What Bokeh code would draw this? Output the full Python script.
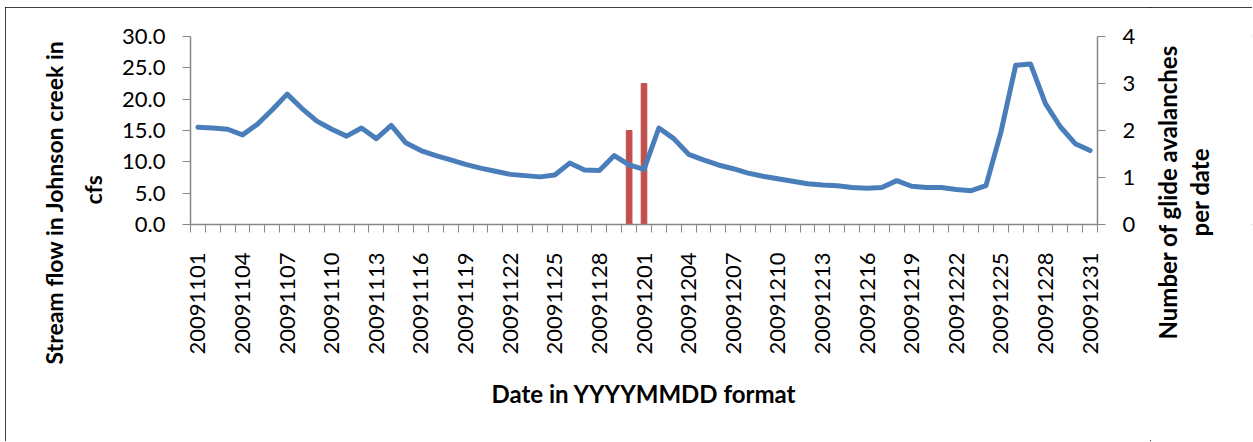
import math
from bokeh.plotting import figure
from bokeh.layouts import row
from bokeh.models import Range1d, LinearAxis, FixedTicker, NumeralTickFormatter, Title
from bokeh.embed import file_html
from bokeh.resources import INLINE

dates = [
    "20091101", "20091102", "20091103", "20091104", "20091105", "20091106", "20091107", "20091108",
    "20091109", "20091110", "20091111", "20091112", "20091113", "20091114", "20091115", "20091116",
    "20091117", "20091118", "20091119", "20091120", "20091121", "20091122", "20091123", "20091124",
    "20091125", "20091126", "20091127", "20091128", "20091129", "20091130",
    "20091201", "20091202", "20091203", "20091204", "20091205", "20091206", "20091207", "20091208",
    "20091209", "20091210", "20091211", "20091212", "20091213", "20091214", "20091215", "20091216",
    "20091217", "20091218", "20091219", "20091220", "20091221", "20091222", "20091223", "20091224",
    "20091225", "20091226", "20091227", "20091228", "20091229", "20091230", "20091231",
]

flow_cfs = [
    15.5, 15.4, 15.2, 14.3, 16.0, 18.3, 20.8, 18.5, 16.5, 15.2,
    14.1, 15.4, 13.7, 15.8, 13.0, 11.8, 11.0, 10.3, 9.6, 9.0,
    8.5, 8.0, 7.8, 7.6, 7.9, 9.8, 8.7, 8.6, 11.0, 9.5,
    8.8, 15.4, 13.7, 11.2, 10.3, 9.5, 8.9, 8.2, 7.7, 7.3,
    6.9, 6.5, 6.3, 6.2, 5.9, 5.8, 5.9, 7.0, 6.1, 5.9,
    5.9, 5.6, 5.4, 6.2, 14.7, 25.4, 25.6, 19.3, 15.6, 12.9, 11.8,
]

avalanche_dates = ["20091130", "20091201"]
avalanche_counts = [2, 3]

left_ticks = [0, 5, 10, 15, 20, 25, 30]
right_ticks = [0, 1, 2, 3, 4]
labelled_dates = dates[::3]

left_title_lines = ["Stream flow in Johnson creek in", "cfs"]
right_title_lines = ["Number of glide avalanches", "per date"]
bottom_title = "Date in YYYYMMDD format"

FONT = "Lato"
AXIS_COLOR = "#868686"
H = 434
RIGHT_W = 102
MAIN_W = 1247 - RIGHT_W

x_pos = list(range(1, len(dates) + 1))
bar_x = [dates.index(d) + 1 for d in avalanche_dates]

p = figure(width=MAIN_W, height=H, output_backend="svg", toolbar_location=None,
           x_range=Range1d(0.5, len(dates) + 0.5), y_range=Range1d(0, 30),
           min_border_left=185, min_border_right=MAIN_W - 185 - 907,
           min_border_top=29, min_border_bottom=217)
p.outline_line_color = None
p.xgrid.visible = False
p.ygrid.visible = False
p.background_fill_color = "white"
p.border_fill_color = "white"
p.extra_y_ranges = {"aval": Range1d(0, 4)}

p.vbar(x=bar_x, top=avalanche_counts, width=0.38, color="#C0504D", y_range_name="aval")
p.line(x_pos, flow_cfs, line_width=5, color="#4A7EBB", line_join="round", line_cap="round")

# x axis
xa = p.xaxis[0]
label_ticks = [dates.index(d) + 1 for d in labelled_dates]
xa.ticker = FixedTicker(ticks=label_ticks, minor_ticks=[i + 0.5 for i in range(0, len(dates) + 1)])
xa.major_label_overrides = {t: d for t, d in zip(label_ticks, labelled_dates)}
xa.major_label_orientation = math.pi / 2
xa.major_tick_out = 0
xa.major_tick_in = 0
xa.minor_tick_out = 8
xa.minor_tick_in = 0
xa.minor_tick_line_color = AXIS_COLOR
xa.axis_line_color = AXIS_COLOR
xa.axis_line_width = 1.5
xa.major_label_text_font = FONT
xa.major_label_text_font_size = "22px"
xa.major_label_text_color = "black"
xa.major_label_standoff = 20
xa.axis_label = bottom_title
xa.axis_label_text_font = FONT
xa.axis_label_text_font_style = "bold"
xa.axis_label_text_font_size = "24px"
xa.axis_label_text_color = "black"
xa.axis_label_standoff = 21

# left axis
ya = p.yaxis[0]
ya.ticker = FixedTicker(ticks=left_ticks)
ya.formatter = NumeralTickFormatter(format="0.0")
ya.major_tick_out = 8
ya.major_tick_in = 0
ya.minor_tick_out = 0
ya.minor_tick_in = 0
ya.major_tick_line_color = AXIS_COLOR
ya.axis_line_color = AXIS_COLOR
ya.axis_line_width = 1.5
ya.major_label_text_font = FONT
ya.major_label_text_font_size = "22px"
ya.major_label_text_color = "black"
ya.major_label_standoff = 17

# right axis
ra = LinearAxis(y_range_name="aval", ticker=FixedTicker(ticks=right_ticks))
ra.major_tick_out = 8
ra.major_tick_in = 0
ra.minor_tick_out = 0
ra.minor_tick_in = 0
ra.major_tick_line_color = AXIS_COLOR
ra.axis_line_color = AXIS_COLOR
ra.axis_line_width = 1.5
ra.major_label_text_font = FONT
ra.major_label_text_font_size = "22px"
ra.major_label_text_color = "black"
ra.major_label_standoff = 17
p.add_layout(ra, "right")


def side_title(text, offset, standoff, size="23px", valign="bottom"):
    return Title(text=text, align="left", vertical_align=valign, offset=offset, standoff=standoff,
                 text_font=FONT, text_font_style="bold", text_font_size=size,
                 text_color="black")


# left titles (innermost first): centred below the frame centre like the original
p.add_layout(side_title(left_title_lines[1], 20, 22, valign="top"), "left")
p.add_layout(side_title(left_title_lines[0], -140, 0), "left")

# right-hand titles live in a slim companion figure so they read bottom-to-top
rp = figure(width=RIGHT_W, height=H, output_backend="svg", toolbar_location=None,
            x_range=Range1d(0, 1), y_range=Range1d(0, 1),
            x_axis_location=None, y_axis_location=None,
            min_border_left=62, min_border_right=0, min_border_top=29, min_border_bottom=217)
rp.outline_line_color = None
rp.xgrid.visible = False
rp.ygrid.visible = False
rp.background_fill_color = "white"
rp.border_fill_color = "white"
rp.add_layout(side_title(right_title_lines[1], -12, 3, "24px"), "left")
rp.add_layout(side_title(right_title_lines[0], -115, 0, "24px"), "left")

layout = row(p, rp, spacing=0)
layout.styles = {"margin-left": "5px", "margin-top": "7px",
                 "outline": "1.5px solid black", "outline-offset": "-1.5px"}

open("out.html", "w").write(file_html(layout, INLINE))
